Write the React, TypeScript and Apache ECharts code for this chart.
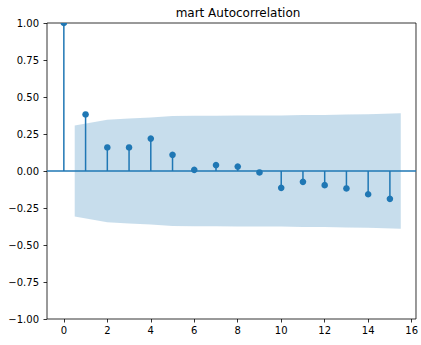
import React, { useEffect, useRef } from "react";
import * as echarts from "echarts";

const title = "mart Autocorrelation";
const lags = [0, 1, 2, 3, 4, 5, 6, 7, 8, 9, 10, 11, 12, 13, 14, 15];
const acfValues = [1.0, 0.382, 0.159, 0.159, 0.219, 0.109, 0.008, 0.04, 0.03, -0.01, -0.114, -0.073, -0.096, -0.118, -0.157, -0.188];
const bandX = [0.5, 2, 3, 4, 5, 6, 7, 8, 9, 10, 11, 12, 13, 14, 15.5];
const bandUpper = [0.307, 0.347, 0.354, 0.361, 0.372, 0.374, 0.374, 0.375, 0.375, 0.375, 0.378, 0.379, 0.381, 0.384, 0.39];
const xTicks = [0, 2, 4, 6, 8, 10, 12, 14, 16];
const yTicks = [-1, -0.75, -0.5, -0.25, 0, 0.25, 0.5, 0.75, 1];

const BLUE = "#1f77b4";
const FONT = "DejaVu Sans";

export default function App() {
  const ref = useRef<HTMLDivElement>(null);
  useEffect(() => {
    if (!ref.current) return;
    const chart = echarts.init(ref.current, undefined, { renderer: "svg" });
    const fmtY = (v: number) => (v < 0 ? "\u2212" : "") + Math.abs(v).toFixed(2);
    chart.setOption({
      animation: false,
      title: {
        text: title,
        left: 233,
        top: 2,
        textAlign: "center",
        textStyle: { fontFamily: FONT, fontSize: 12, fontWeight: "normal", color: "#000" },
      },
      grid: {
        left: 47,
        right: 2,
        top: 23,
        bottom: 26,
        show: true,
        borderColor: "#000",
        borderWidth: 0.8,
        backgroundColor: "transparent",
      },
      xAxis: {
        type: "value",
        min: -0.775,
        max: 16.2,
        axisLine: { show: false, onZero: false },
        splitLine: { show: false },
        axisTick: { show: true, customValues: xTicks, length: 3.5, lineStyle: { color: "#000", width: 0.8 } },
        axisLabel: {
          customValues: xTicks,
          color: "#000",
          fontSize: 10,
          fontFamily: FONT,
          margin: 6,
          showMinLabel: true,
          showMaxLabel: true,
        },
      },
      yAxis: {
        type: "value",
        min: -1,
        max: 1,
        axisLine: { show: false, onZero: false },
        splitLine: { show: false },
        axisTick: { show: true, customValues: yTicks, length: 3.5, lineStyle: { color: "#000", width: 0.8 } },
        axisLabel: {
          customValues: yTicks,
          color: "#000",
          fontSize: 10,
          fontFamily: FONT,
          margin: 8,
          formatter: (v: number) => fmtY(v),
        },
      },
      series: [
        {
          type: "line",
          data: bandX.map((x, i) => [x, bandUpper[i]]),
          showSymbol: false,
          symbol: "none",
          lineStyle: { width: 0 },
          areaStyle: { color: "rgba(31,119,180,0.25)", origin: 0, opacity: 1 },
          silent: true,
          z: 1,
          markLine: {
            silent: true,
            symbol: "none",
            label: { show: false },
            lineStyle: { color: BLUE, width: 1.5, type: "solid" },
            data: [{ yAxis: 0 }],
            z: 3,
          },
        },
        {
          type: "line",
          data: bandX.map((x, i) => [x, -bandUpper[i]]),
          showSymbol: false,
          symbol: "none",
          lineStyle: { width: 0 },
          areaStyle: { color: "rgba(31,119,180,0.25)", origin: 0, opacity: 1 },
          silent: true,
          z: 1,
        },
        {
          type: "custom",
          clip: true,
          z: 4,
          data: lags.map((l, i) => [l, acfValues[i]]),
          renderItem: (params: any, api: any) => {
            const x = api.value(0);
            const y = api.value(1);
            const p0 = api.coord([x, 0]);
            const p1 = api.coord([x, y]);
            return {
              type: "group",
              children: [
                {
                  type: "line",
                  shape: { x1: p0[0], y1: p0[1], x2: p1[0], y2: p1[1] },
                  style: { stroke: BLUE, lineWidth: 1.5 },
                },
                {
                  type: "circle",
                  shape: { cx: p1[0], cy: p1[1], r: 3.3 },
                  style: { fill: BLUE },
                },
              ],
            };
          },
        },
      ],
    });
    return () => chart.dispose();
  }, []);
  return (
    <div
      ref={ref}
      style={{ position: "fixed", left: 0, top: 0, width: 421, height: 345, background: "#fff" }}
    />
  );
}
